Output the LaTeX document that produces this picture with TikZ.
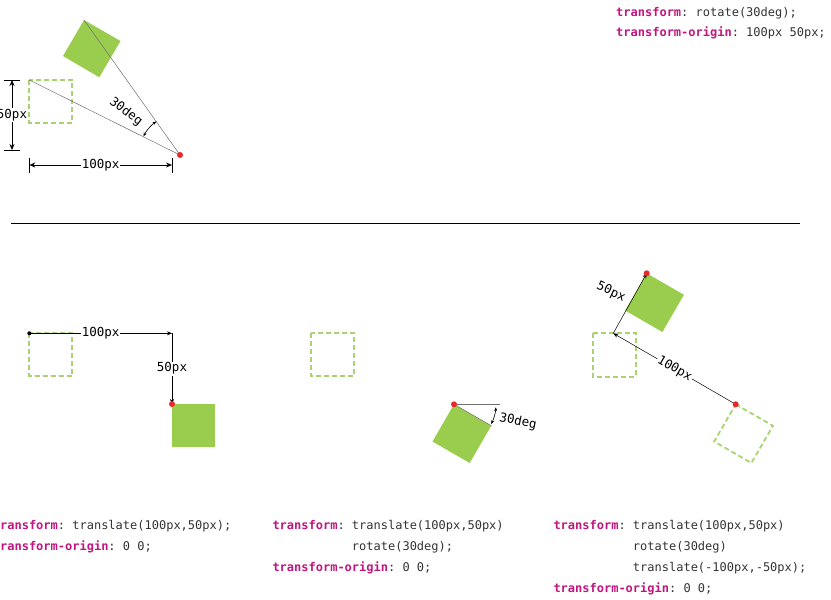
\documentclass[tikz,border=0pt]{standalone}
\usepackage{fontspec}
\setmainfont{DejaVu Sans}
\setmonofont{DejaVu Sans Mono}
\usetikzlibrary{arrows.meta}
\definecolor{kwc}{HTML}{C0157F}
\definecolor{codec}{HTML}{333333}
\definecolor{boxg}{HTML}{9ACD4E}
\definecolor{dashg}{HTML}{A8D46F}
\definecolor{dotr}{HTML}{E8282B}
\definecolor{guidec}{HTML}{707070}
\newcommand\kw[1]{\textcolor{kwc}{\bfseries #1}}
\begin{document}
\begin{tikzpicture}[x=1pt,y=-1pt,
  code/.style={anchor=base west, inner sep=0pt, font=\fontsize{12}{14}\selectfont\ttfamily, text=codec},
  dimbox/.style={font=\fontsize{12.5}{14}\selectfont\ttfamily, fill=white, inner sep=1pt},
  dimtext/.style={font=\fontsize{12.5}{14}\selectfont\ttfamily, inner sep=1pt},
  arr/.style={-{Stealth[length=5pt,width=4pt]}, line width=0.6pt},
  darr/.style={{Stealth[length=6pt,width=5pt]}-{Stealth[length=6pt,width=5pt]}, line width=0.7pt},
  sarr/.style={{Stealth[length=4pt,width=3pt]}-{Stealth[length=4pt,width=3pt]}, line width=0.6pt},
  tick/.style={line width=0.7pt},
  guide/.style={draw=guidec, line width=0.5pt},
  ghost/.style={draw=dashg, dash pattern=on 5pt off 3pt, line width=1.8pt},
  rdot/.style={circle, fill=dotr, inner sep=0pt, minimum size=6pt},
  bdot/.style={circle, fill=black, inner sep=0pt, minimum size=4pt}
]
\useasboundingbox (0,0) rectangle (831,600);

% ---------- top diagram ----------
\draw[ghost] (29.3,80) rectangle (72.3,122.7);
\fill[boxg] (84,20) -- (120.5,41) -- (99.3,77.3) -- (63,56) -- cycle;
\coordinate (tA) at (29.3,80);
\coordinate (tB) at (84,20);
\coordinate (tO) at (180,155);
\draw[guide] (tA) -- (tO);
\draw[guide] (tB) -- (tO);
\draw[sarr] ([shift={(207:41)}]tO) arc[start angle=207, end angle=235, radius=41];
\node[dimtext, rotate=-37] (t30) at (126,112) {30deg};
\node[rdot] (tOdot) at (tO) {};

% 50px vertical dimension
\coordinate (tv1) at (12,80);
\coordinate (tv2) at (12,150);
\coordinate (tv1a) at (4,80);  \coordinate (tv1b) at (20,80);
\coordinate (tv2a) at (4,150); \coordinate (tv2b) at (20,150);
\draw[tick] (tv1a) -- (tv1b);
\draw[tick] (tv2a) -- (tv2b);
\draw[darr] (tv1) -- (tv2) node[midway, dimbox] (t50) {50px};

% 100px horizontal dimension
\coordinate (th1) at (29.3,165);
\coordinate (th2) at (172,165);
\coordinate (th1a) at (29.3,158); \coordinate (th1b) at (29.3,173);
\coordinate (th2a) at (172,158);  \coordinate (th2b) at (172,173);
\draw[tick] (th1a) -- (th1b);
\draw[tick] (th2a) -- (th2b);
\draw[darr] (th1) -- (th2) node[midway, dimbox] (t100) {100px};

\node[code] (tr1) at (616,16) {\kw{transform}: rotate(30deg);};
\node[code] (tr2) at (616,36) {\kw{transform-origin}: 100px 50px;};

% separator
\coordinate (sepL) at (11,223);
\coordinate (sepR) at (800,223);
\draw[line width=1pt] (sepL) -- (sepR);

% ---------- bottom left ----------
\draw[ghost] (29.3,333.3) rectangle (72.3,376);
\fill[boxg] (172,404) rectangle (215,447);
\coordinate (lA) at (29.3,333.3);
\coordinate (lC) at (172,333.3);
\coordinate (lO) at (172,404);
\draw[arr] (lA) -- (lC) node[midway, dimbox] (l100) {100px};
\draw[arr] (lC) -- (lO) node[midway, dimbox] (l50) {50px};
\node[bdot] (lAdot) at (lA) {};
\node[rdot] (lOdot) at (lO) {};

\node[code] (la1) at (-7.3,529) {\kw{transform}: translate(100px,50px);};
\node[code] (la2) at (-7.3,550) {\kw{transform-origin}: 0 0;};

% ---------- bottom middle ----------
\draw[ghost] (311,333.3) rectangle (354.3,376);
\coordinate (mO) at (454,404.3);
\fill[boxg] (mO) -- ++(37.2,21.5) -- ++(-21.5,37.2) -- ++(-37.2,-21.5) -- cycle;
\coordinate (mH) at (500,404.3);
\coordinate (mE) at (491.8,426);
\draw[guide] (mO) -- (mH);
\draw[guide] (mO) -- (mE);
\draw[sarr] ([shift={(4:42)}]mO) arc[start angle=4, end angle=28, radius=42];
\node[dimtext, rotate=-11] (m30) at (518,421.5) {30deg};
\node[rdot] (mOdot) at (mO) {};

\node[code] (ma1) at (272.3,529) {\kw{transform}: translate(100px,50px)};
\node[code] (ma2) at (272.3,550) {\phantom{\bfseries transform: }rotate(30deg);};
\node[code] (ma3) at (272.3,571) {\kw{transform-origin}: 0 0;};

% ---------- bottom right ----------
\draw[ghost] (592.7,333.3) rectangle (636,376.7);
\coordinate (rO) at (735.7,404.3);
\draw[ghost] (rO) -- ++(37.2,21.5) -- ++(-21.5,37.2) -- ++(-37.2,-21.5) -- cycle;
\coordinate (rT) at (646.7,273.3);
\fill[boxg] (rT) -- ++(37.2,21.5) -- ++(-21.5,37.2) -- ++(-37.2,-21.5) -- cycle;
\coordinate (rM) at (613.3,333.3);
\draw[arr, line width=0.5pt] (rO) -- (rM) node[midway, dimbox, rotate=-30] (r100) {100px};
\draw[arr, line width=0.5pt] (rM) -- (rT);
\node[dimtext, rotate=-25] (r50) at (611,292) {50px};
\node[rdot] (rOdot) at (rO) {};
\node[rdot] (rTdot) at (rT) {};

\node[code] (ra1) at (553.3,529) {\kw{transform}: translate(100px,50px)};
\node[code] (ra2) at (553.3,550) {\phantom{\bfseries transform: }rotate(30deg)};
\node[code] (ra3) at (553.3,571) {\phantom{\bfseries transform: }translate(-100px,-50px);};
\node[code] (ra4) at (553.3,592) {\kw{transform-origin}: 0 0;};
\end{tikzpicture}
\end{document}
